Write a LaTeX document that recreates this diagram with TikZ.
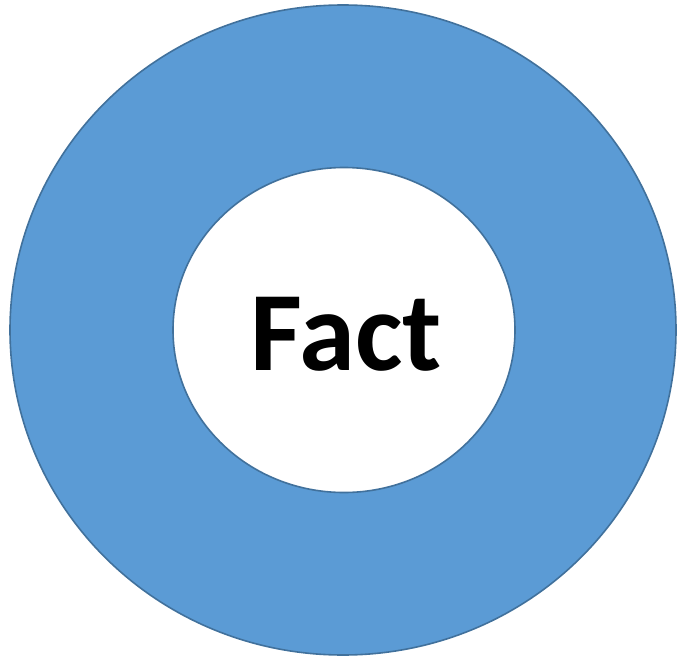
\documentclass[tikz,border=0pt]{standalone}
\usepackage{fontspec}
\setmainfont{Carlito}
\usepackage{tikz}
\usepackage{xcolor}
\definecolor{ringblue}{RGB}{91, 155, 213}
\definecolor{ringedge}{RGB}{65, 113, 156}
\usetikzlibrary{shapes.geometric}

\begin{document}
\begin{tikzpicture}[x=1pt, y=-1pt,
  disc/.style={ellipse, draw=ringedge, line width=1.6pt, inner sep=0pt}]

  \useasboundingbox (0,0) rectangle (677,658);

  \node[disc, fill=ringblue, minimum width=666pt, minimum height=650pt] (ring) at (343,330) {};
  \node[disc, fill=white, minimum width=342pt, minimum height=325pt] (hole) at (344,330) {};

  \node[anchor=base, inner sep=0pt, font=\bfseries\fontsize{113}{113}\selectfont] (fact) at (346,370) {Fact};
\end{tikzpicture}
\end{document}
